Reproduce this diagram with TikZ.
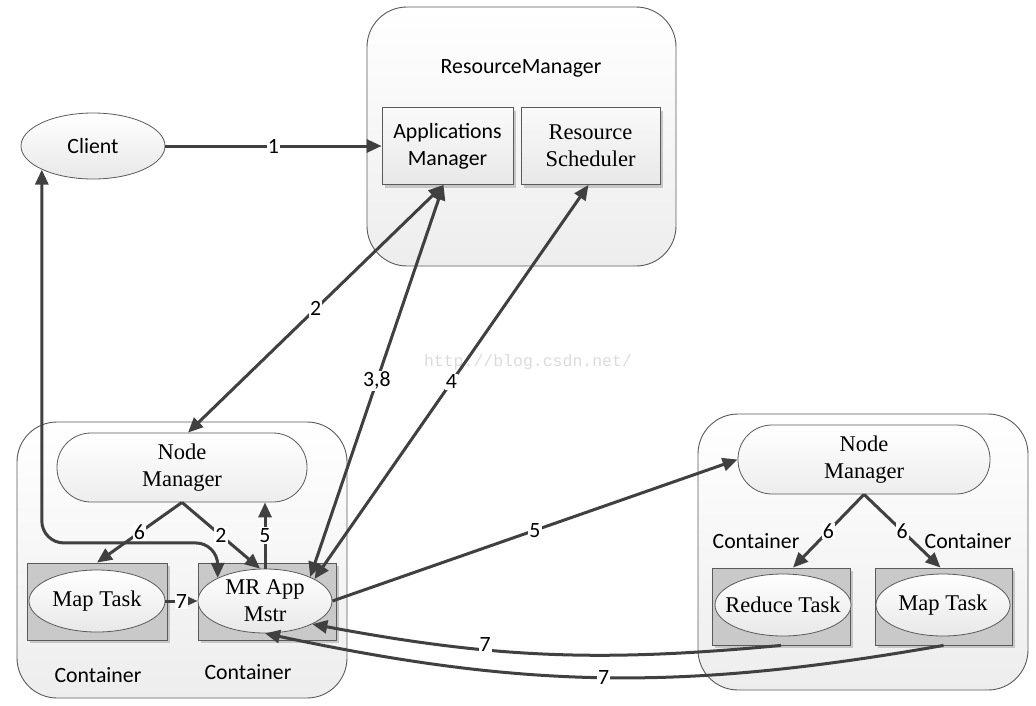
\documentclass[tikz,border=0pt]{standalone}
\usepackage{fontspec}
\setmainfont{Liberation Serif}
\newfontfamily\calfont{Carlito}
\newfontfamily\wmfont{Liberation Mono}
\usetikzlibrary{arrows.meta,shapes.geometric,shadows,calc}
\definecolor{ln}{HTML}{404040}
\definecolor{bd}{HTML}{5A5A5A}
\begin{document}
\begin{tikzpicture}[x=1pt,y=-1pt,
  outer/.style={draw=bd, line width=0.9pt, rounded corners=40pt, top color=white, bottom color=black!7, inner sep=0pt},
  shad/.style={drop shadow={shadow xshift=3pt,shadow yshift=-3pt,fill=black!22,opacity=1}},
  inbox/.style={draw=bd, line width=0.8pt, top color=black!2, bottom color=black!9, inner sep=0pt, shad, align=center},
  cont/.style={draw=bd, line width=0.8pt, fill=black!21, inner sep=0pt, shad},
  ell/.style={ellipse, draw=bd, line width=0.8pt, top color=white, bottom color=black!9, inner sep=0pt, align=center},
  pill/.style={draw=bd, line width=0.8pt, rounded corners=34pt, top color=white, bottom color=black!7, inner sep=0pt, align=center},
  sf/.style={font=\calfont\fontsize{21.8}{27}\selectfont},
  rmn/.style={font=\fontsize{22.5}{27}\selectfont},
  tip/.tip={Triangle[length=15pt,width=13pt]},
  arr/.style={draw=ln, line width=3pt, -tip},
  arrtwo/.style={draw=ln, line width=3pt, tip-tip},
  lbl/.style={fill=white, inner sep=1pt, sf, text=black}]
\useasboundingbox (0,0) rectangle (1036,705);

% outer boxes
\node[outer, minimum width=309pt, minimum height=259pt] (rm) at (521.5,136.5) {};
\node[outer, minimum width=330pt, minimum height=276pt] (lbox) at (182,560) {};
\node[outer, minimum width=330pt, minimum height=276pt] (rbox) at (863,552) {};

\node[sf] (rmt) at (521,68) {ResourceManager};
\node[inbox, sf, minimum width=131pt, minimum height=77pt] (am) at (447.5,146) {Applications\\Manager};
\node[inbox, rmn, minimum width=139pt, minimum height=77pt] (rs) at (590.5,146) {Resource\\Scheduler};

\node[ell, sf, minimum width=144pt, minimum height=66pt] (client) at (93,146) {Client};

% left node
\node[pill, rmn, minimum width=250pt, minimum height=69pt] (nm1) at (182,467.5) {Node\\Manager};
\node[cont, minimum width=140pt, minimum height=77pt] (c1) at (97,601.5) {};
\node[ell, rmn, minimum width=136pt, minimum height=62pt] (e1) at (97,601) {Map Task};
\node[cont, minimum width=138pt, minimum height=77pt] (c2) at (267,601.5) {};
\node[ell, rmn, minimum width=134pt, minimum height=64pt] (e2) at (265,601) {MR App\\Mstr};
\node[sf] (ct1) at (98,675) {Container};
\node[sf] (ct2) at (248,672) {Container};

% right node
\node[pill, rmn, minimum width=252pt, minimum height=69pt] (nm2) at (864,459.5) {Node\\Manager};
\node[cont, minimum width=138pt, minimum height=77pt] (c3) at (781,606.5) {};
\node[ell, minimum width=136pt, minimum height=62pt, label={[rmn]center:Reduce Task}] (e3) at (783,605) {};
\node[cont, minimum width=137pt, minimum height=77pt] (c4) at (943.5,606.5) {};
\node[ell, rmn, minimum width=134pt, minimum height=62pt] (e4) at (943,605) {Map Task};
\node[sf] (ct3) at (756,541) {Container};
\node[sf] (ct4) at (968,541) {Container};

% watermark
\node[font=\wmfont\fontsize{16.5}{20}\selectfont, text=black!14] (wm) at (528,362) {http://blog.csdn.net/};

% connectors
\draw[arr] (client.east) -- node[lbl]{1} (am.west);
\draw[arrtwo] ([xshift=-4pt]am.south) -- node[lbl]{2} ([xshift=6pt]nm1.north);
\draw[arrtwo] ([xshift=-4pt]am.south) -- node[lbl]{3,8} (e2.28);
\draw[arrtwo] ([xshift=-2pt]rs.south) -- node[lbl]{4} (e2.24);
\draw[arrtwo, rounded corners=22pt] (client.south west) |- ([yshift=35pt]e2.154) -- (e2.154);
\draw[arr] (nm1.south) -- node[lbl]{6} (c1.north);
\draw[arr] (nm1.south) -- node[lbl]{2} ([xshift=-5pt]e2.north);
\draw[arr] (e2.north) -- node[lbl]{5} (e2.north |- nm1.south);
\draw[arr] (e1.east) -- node[lbl]{7} (e2.west);
\draw[arr] (e2.east) -- node[lbl]{5} (nm2.west);
\draw[arr] (nm2.south) -- node[lbl]{6} ([xshift=12pt]c3.north);
\draw[arr] (nm2.south) -- node[lbl]{6} ([xshift=-3pt]c4.north);
\draw[arr] (c3.south) to[bend left=8] node[lbl, pos=0.64, yshift=5pt]{7} (e2.-26);
\draw[arr] (c4.south) to[bend left=11] node[lbl]{7} (e2.south);
\end{tikzpicture}
\end{document}
